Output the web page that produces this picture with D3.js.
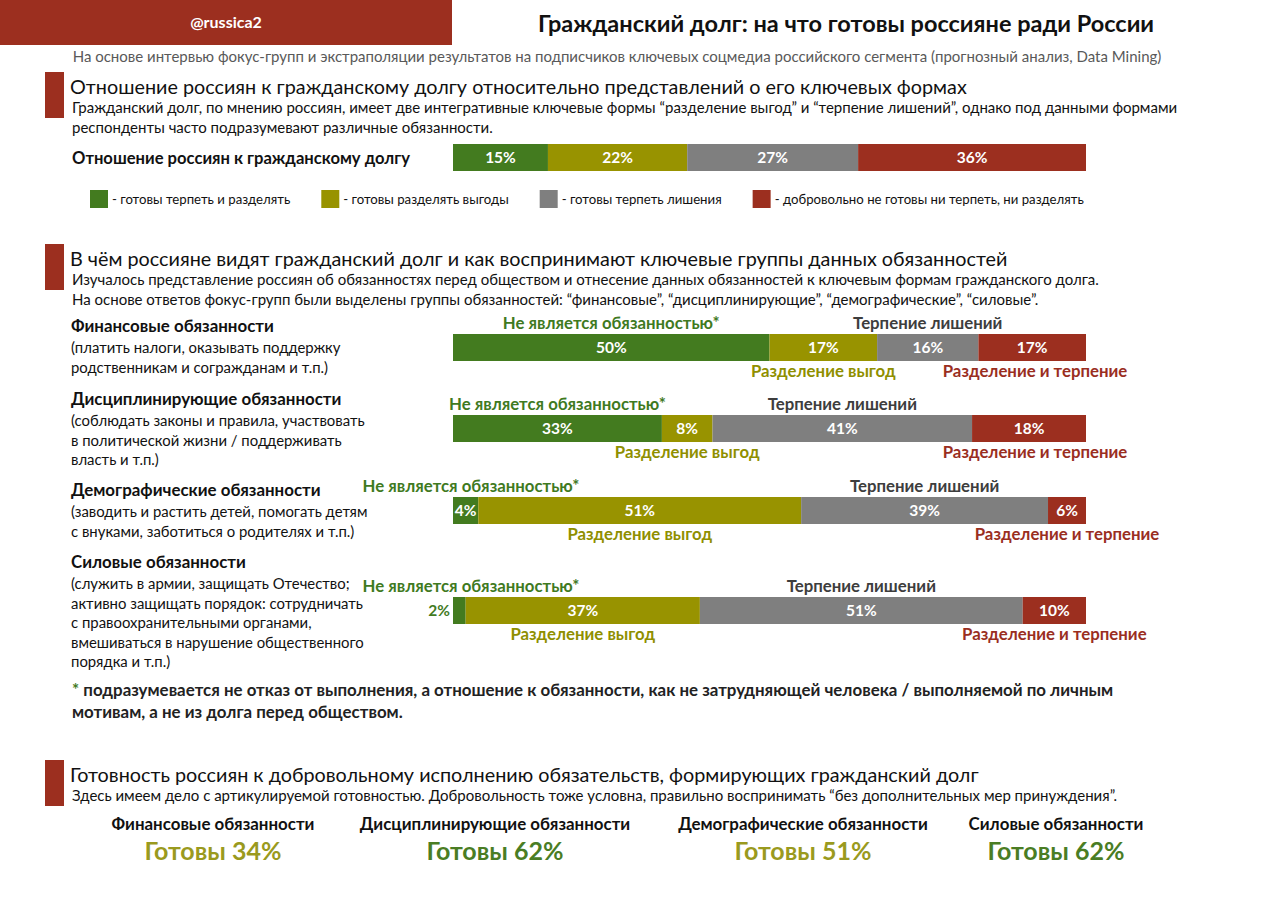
<!DOCTYPE html>
<html>
<head>
<meta charset="utf-8">
<script src="https://cdn.jsdelivr.net/npm/d3@7"></script>
<style>
  body { margin: 0; background: #fff; }
  svg { font-family: Lato, 'Noto Sans', sans-serif; }
</style>
</head>
<body>
<svg id="chart" width="1280" height="905"></svg>
<script>
// overall attitude
const overallCats = ['готовы терпеть и разделять', 'готовы разделять выгоды', 'готовы терпеть лишения', 'добровольно не готовы ни терпеть, ни разделять'];
const overallValues = [15, 22, 27, 36];

// duty groups
const dutyNames = ['Финансовые обязанности', 'Дисциплинирующие обязанности', 'Демографические обязанности', 'Силовые обязанности'];
const dutyNotes = [
	['(платить налоги, оказывать поддержку', 'родственникам и согражданам и т.п.)'],
	['(соблюдать законы и правила, участвовать', 'в политической жизни / поддерживать', 'власть и т.п.)'],
	['(заводить и растить детей, помогать детям', 'с внуками, заботиться о родителях и т.п.)'],
	['(служить в армии, защищать Отечество;', 'активно защищать порядок: сотрудничать', 'с правоохранительными органами,', 'вмешиваться в нарушение общественного', 'порядка и т.п.)']
];
const notDuty = [50, 33, 4, 2];
const shareBenefit = [17, 8, 51, 37];
const bearHardship = [16, 41, 39, 51];
const shareAndBear = [17, 18, 6, 10];
const segmentNames = ['Не является обязанностью*', 'Разделение выгод', 'Терпение лишений', 'Разделение и терпение'];

// readiness
const readyValues = [34, 62, 51, 62];

const colors = ['#437b1f', '#989300', '#7f7f7f', '#9c2f1f'];
const labelColors = ['#3f7a1f', '#8f8f00', '#3d3d3d', '#9a2e1f'];
const red = '#9c2f1f';

const svg = d3.select('#chart');
const x = d3.scaleLinear().domain([0, 100]).range([453, 1086]);

// header
svg.append('rect').attr('x', 0).attr('y', 0).attr('width', 452).attr('height', 45).attr('fill', red);
svg.append('text').attr('x', 226).attr('y', 28).attr('text-anchor', 'middle')
	.attr('fill', '#fff').attr('font-weight', 'bold').attr('font-size', 16).text('@russica2');
svg.append('text').attr('x', 846).attr('y', 32).attr('text-anchor', 'middle')
	.attr('font-weight', 'bold').attr('font-size', 23.5).attr('fill', '#111')
	.text('Гражданский долг: на что готовы россияне ради России');
svg.append('text').attr('x', 617).attr('y', 62).attr('text-anchor', 'middle')
	.attr('font-size', 15).attr('fill', '#595959')
	.text('На основе интервью фокус-групп и экстраполяции результатов на подписчиков ключевых соцмедиа российского сегмента (прогнозный анализ, Data Mining)');

function section(y, title, lines) {
	svg.append('rect').attr('x', 45).attr('y', y).attr('width', 19).attr('height', 46).attr('fill', red);
	svg.append('text').attr('x', 70).attr('y', y + 22).attr('font-size', 19.8).attr('fill', '#111').text(title);
	lines.forEach((l, i) => {
		svg.append('text').attr('x', 72).attr('y', y + 41 + i * 20).attr('font-size', 15).attr('fill', '#111').text(l);
	});
}

function stackBar(values, y0, h) {
	let acc = 0;
	const segs = values.map((v, i) => {
		const s = {i: i, v: v, x0: acc, x1: acc + v};
		acc += v;
		return s;
	});
	const g = svg.append('g');
	g.selectAll('rect').data(segs).enter().append('rect')
		.attr('x', d => x(d.x0)).attr('y', y0)
		.attr('width', d => x(d.x1) - x(d.x0)).attr('height', h)
		.attr('fill', d => colors[d.i]);
	g.selectAll('text').data(segs).enter().append('text')
		.attr('x', d => d.v < 3 ? x(d.x0) - 3 : (x(d.x0) + x(d.x1)) / 2)
		.attr('y', d => y0 + h / 2 + 5.5)
		.attr('text-anchor', d => d.v < 3 ? 'end' : 'middle')
		.attr('font-weight', 'bold').attr('font-size', 15.5)
		.attr('fill', d => d.v < 3 ? colors[0] : '#fff')
		.text(d => d.v + '%');
	return segs;
}

// section 1
section(72, 'Отношение россиян к гражданскому долгу относительно представлений о его ключевых формах', [
	'Гражданский долг, по мнению россиян, имеет две интегративные ключевые формы “разделение выгод” и “терпение лишений”, однако под данными формами',
	'респонденты часто подразумевают различные обязанности.'
]);
svg.append('text').attr('x', 72).attr('y', 164).attr('font-weight', 'bold').attr('font-size', 16.6).attr('fill', '#111')
	.text('Отношение россиян к гражданскому долгу');
stackBar(overallValues, 144, 27);

// legend
let lx = 90;
overallCats.forEach((c, i) => {
	svg.append('rect').attr('x', lx).attr('y', 190).attr('width', 18).attr('height', 18).attr('fill', colors[i]);
	const t = svg.append('text').attr('x', lx + 22).attr('y', 204).attr('font-size', 13.2).attr('fill', '#111').text('- ' + c);
	lx += 22 + t.node().getComputedTextLength() + 31;
});

// section 2
section(244, 'В чём россияне видят гражданский долг и как воспринимают ключевые группы данных обязанностей', [
	'Изучалось представление россиян об обязанностях перед обществом и отнесение данных обязанностей к ключевым формам гражданского долга.',
	'На основе ответов фокус-групп были выделены группы обязанностей: “финансовые”, “дисциплинирующие”, “демографические”, “силовые”.'
]);

const barTops = [334, 415, 497, 597];
const nameYs = [332, 405, 496, 568];

dutyNames.forEach((name, r) => {
	svg.append('text').attr('x', 71).attr('y', nameYs[r]).attr('font-weight', 'bold').attr('font-size', 16.9).attr('fill', '#111').text(name);
	dutyNotes[r].forEach((l, k) => {
		svg.append('text').attr('x', 71).attr('y', nameYs[r] + 21 + k * 19.5).attr('font-size', 14.9).attr('fill', '#111').text(l);
	});
	const segs = stackBar([notDuty[r], shareBenefit[r], bearHardship[r], shareAndBear[r]], barTops[r], 27);
	svg.append('g').selectAll('text').data(segs).enter().append('text')
		.attr('x', d => {
			const c = (x(d.x0) + x(d.x1)) / 2;
			return d.i === 0 ? Math.max(c, 471) : d.i === 3 ? Math.min(Math.max(c, 1035), 1068) : c;
		})
		.attr('y', d => d.i % 2 === 0 ? barTops[r] - 5 : barTops[r] + 27 + 16)
		.attr('text-anchor', 'middle').attr('font-weight', 'bold').attr('font-size', 16.8)
		.attr('fill', d => labelColors[d.i])
		.text(d => segmentNames[d.i]);
});

// footnote
const fn = svg.append('text').attr('x', 72).attr('y', 696).attr('font-weight', 'bold').attr('font-size', 16.9).attr('fill', '#222');
fn.append('tspan').attr('fill', colors[0]).text('* ');
fn.append('tspan').text('подразумевается не отказ от выполнения, а отношение к обязанности, как не затрудняющей человека / выполняемой по личным');
svg.append('text').attr('x', 72).attr('y', 718).attr('font-weight', 'bold').attr('font-size', 16.9).attr('fill', '#222')
	.text('мотивам, а не из долга перед обществом.');

// section 3
section(760, 'Готовность россиян к добровольному исполнению обязательств, формирующих гражданский долг', [
	'Здесь имеем дело с артикулируемой готовностью. Добровольность тоже условна, правильно воспринимать “без дополнительных мер принуждения”.'
]);

const colCenters = [213, 495, 803, 1056];
dutyNames.forEach((name, i) => {
	svg.append('text').attr('x', colCenters[i]).attr('y', 830).attr('text-anchor', 'middle')
		.attr('font-weight', 'bold').attr('font-size', 16.9).attr('fill', '#111').text(name);
	svg.append('text').attr('x', colCenters[i]).attr('y', 860).attr('text-anchor', 'middle')
		.attr('font-weight', 'bold').attr('font-size', 25)
		.attr('fill', readyValues[i] >= 60 ? '#4a7d24' : '#9a9a1e')
		.text('Готовы ' + readyValues[i] + '%');
});
</script>
</body>
</html>
